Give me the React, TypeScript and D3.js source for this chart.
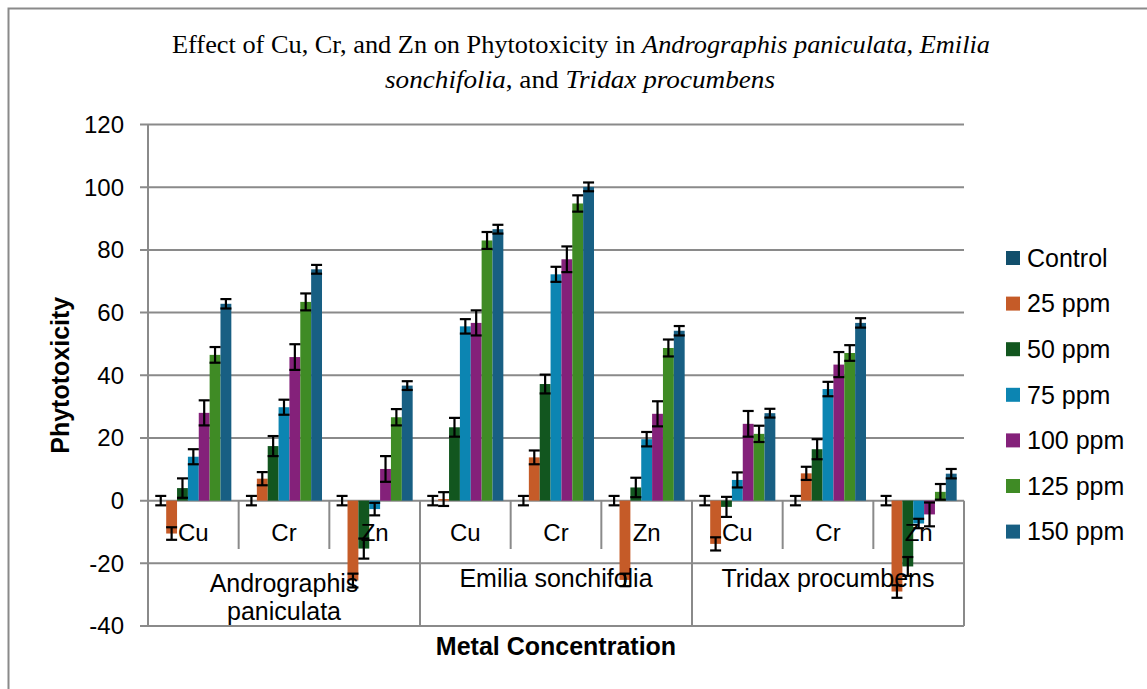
import React from "react";
import * as d3 from "d3";

const species = ["Andrographis paniculata", "Emilia sonchifolia", "Tridax procumbens"];
const speciesLines = [["Andrographis", "paniculata"], ["Emilia sonchifolia"], ["Tridax procumbens"]];
const metals = ["Cu", "Cr", "Zn"];
const seriesNames = ["Control", "25 ppm", "50 ppm", "75 ppm", "100 ppm", "125 ppm", "150 ppm"];
const seriesColors = ["#124f6c", "#c55b28", "#12561f", "#0c85b2", "#84217a", "#3f8b25", "#185f83"];
const yTicks = [-40, -20, 0, 20, 40, 60, 80, 100, 120];

// values per series, groups: AP-Cu, AP-Cr, AP-Zn, ES-Cu, ES-Cr, ES-Zn, TP-Cu, TP-Cr, TP-Zn
const control = [0, 0, 0, 0, 0, 0, 0, 0, 0];
const ppm25 = [-10.5, 7, -25.5, 0.5, 13.8, -25.3, -13.8, 8.7, -29];
const ppm50 = [4, 17.4, -15.3, 23.4, 37.2, 4.2, -2, 16.4, -21];
const ppm75 = [14, 29.8, -2.7, 55.6, 72.2, 19.6, 6.6, 35.6, -7.3];
const ppm100 = [28, 45.8, 10.1, 56.7, 77, 27.7, 24.5, 43.4, -4.4];
const ppm125 = [46.5, 63.4, 26.6, 83, 94.8, 48.7, 21.3, 47.1, 2.8];
const ppm150 = [62.8, 73.8, 36.7, 86.6, 100.1, 54.2, 27.9, 56.7, 8.6];

const errControl = [1.5, 1.5, 1.5, 1.5, 1.5, 1.5, 1.5, 1.5, 1.5];
const err25 = [2, 2.1, 2.2, 2.2, 2.2, 2, 2.1, 2.1, 2];
const err50 = [3.1, 3.2, 3.2, 3, 3, 3.1, 3.2, 3.2, 3];
const err75 = [2.4, 2.4, 2, 2.3, 2.4, 2.3, 2.4, 2.3, 1.5];
const err100 = [4, 4.1, 4.1, 4, 4.1, 4, 4.1, 4, 3.8];
const err125 = [2.5, 2.7, 2.6, 2.7, 2.6, 2.7, 2.6, 2.5, 2.5];
const err150 = [1.5, 1.4, 1.4, 1.4, 1.4, 1.5, 1.4, 1.5, 1.5];

const seriesValues = [control, ppm25, ppm50, ppm75, ppm100, ppm125, ppm150];
const seriesErrors = [errControl, err25, err50, err75, err100, err125, err150];

const W = 1147;
const H = 689;
const left = 148;
const right = 964;
const top = 124.5;
const bottom = 626;
const GRID = "#8a8a8a";
const SANS = "'Liberation Sans', Arial, sans-serif";
const SERIF = "'Liberation Serif', 'Times New Roman', serif";

export default function App() {
  const groups = d3.range(species.length * metals.length).map(String);
  const x0 = d3.scaleBand<string>().domain(groups).range([left, right]).padding(0);
  const x1 = d3.scaleBand<string>().domain(seriesNames).range([0, x0.bandwidth()]).paddingInner(0).paddingOuter(0.675);
  const y = d3.scaleLinear().domain([-40, 120]).range([bottom, top]);
  const y0 = y(0);
  const bw = x1.bandwidth();
  const speciesW = x0.bandwidth() * metals.length;

  return (
    <svg width={W} height={H} style={{ position: "fixed", left: 0, top: 0, background: "#fff" }}>
      <rect x={0} y={0} width={W} height={H} fill="#fff" />
      <rect x={8.5} y={8.5} width={W + 50} height={H + 50} fill="none" stroke={GRID} strokeWidth={2} />

      {/* title */}
      <text x={581} y={53} fontFamily={SERIF} fontSize={26} textAnchor="middle" fill="#000" textLength={818} lengthAdjust="spacingAndGlyphs">
        Effect of Cu, Cr, and Zn on Phytotoxicity in <tspan fontStyle="italic">Andrographis paniculata, Emilia</tspan>
      </text>
      <text x={580} y={88} fontFamily={SERIF} fontSize={26} textAnchor="middle" fill="#000" textLength={390} lengthAdjust="spacingAndGlyphs">
        <tspan fontStyle="italic">sonchifolia</tspan>, and <tspan fontStyle="italic">Tridax procumbens</tspan>
      </text>

      {/* gridlines */}
      {yTicks.map((t) => (
        <g key={t}>
          <line x1={left - 8} x2={right} y1={y(t)} y2={y(t)} stroke={GRID} strokeWidth={2} />
          <text x={124} y={y(t)} dy="0.35em" textAnchor="end" fontFamily={SANS} fontSize={24} fill="#000">
            {t}
          </text>
        </g>
      ))}
      {/* y axis */}
      <line x1={left} x2={left} y1={top} y2={bottom} stroke={GRID} strokeWidth={2} />

      {/* category table lines */}
      <line x1={right} x2={right} y1={y0} y2={bottom} stroke={GRID} strokeWidth={2} />
      {groups.map((g, i) =>
        i > 0 ? (
          <line
            key={"sep" + g}
            x1={x0(g)!}
            x2={x0(g)!}
            y1={y0}
            y2={i % metals.length === 0 ? bottom : 549}
            stroke={GRID}
            strokeWidth={2}
          />
        ) : null
      )}

      {/* bars */}
      {seriesNames.map((s, si) => (
        <g key={s} fill={seriesColors[si]}>
          {groups.map((g, gi) => {
            const v = seriesValues[si][gi];
            const yv = y(v);
            return <rect key={g} x={x0(g)! + x1(s)!} width={bw} y={Math.min(yv, y0)} height={Math.abs(yv - y0)} />;
          })}
        </g>
      ))}

      {/* category labels */}
      {groups.map((g, gi) => (
        <text
          key={"m" + g}
          x={x0(g)! + x0.bandwidth() / 2}
          y={541}
          textAnchor="middle"
          fontFamily={SANS}
          fontSize={24}
          fill="#000"
        >
          {metals[gi % metals.length]}
        </text>
      ))}
      {species.map((sp, i) => {
        const cx = left + speciesW * i + speciesW / 2;
        const lines = speciesLines[i];
        return (
          <text key={sp} x={cx} textAnchor="middle" fontFamily={SANS} fontSize={25} fill="#000">
            {lines.map((ln, li) => (
              <tspan key={li} x={cx} y={lines.length > 1 ? 592 + li * 28 : 587}>
                {ln}
              </tspan>
            ))}
          </text>
        );
      })}

      {/* error bars */}
      {seriesNames.map((s, si) => (
        <g key={"e" + s} stroke="#000" strokeWidth={2.2}>
          {groups.map((g, gi) => {
            const v = seriesValues[si][gi];
            const e = seriesErrors[si][gi];
            const cx = x0(g)! + x1(s)! + bw / 2;
            const ya = y(v + e);
            const yb = y(v - e);
            return (
              <g key={g}>
                <line x1={cx} x2={cx} y1={ya} y2={yb} />
                <line x1={cx - 5.5} x2={cx + 5.5} y1={ya} y2={ya} />
                <line x1={cx - 5.5} x2={cx + 5.5} y1={yb} y2={yb} />
              </g>
            );
          })}
        </g>
      ))}

      {/* axis titles */}
      <text
        transform={`translate(69, ${(top + bottom) / 2}) rotate(-90)`}
        textAnchor="middle"
        fontFamily={SANS}
        fontSize={25}
        fontWeight="bold"
        fill="#000"
      >
        Phytotoxicity
      </text>
      <text x={(left + right) / 2} y={655} textAnchor="middle" fontFamily={SANS} fontSize={25} fontWeight="bold" fill="#000">
        Metal Concentration
      </text>

      {/* legend */}
      {seriesNames.map((s, si) => {
        const cy = 258 + si * 45.6;
        return (
          <g key={"l" + s}>
            <rect x={1006} y={cy - 7} width={14} height={14} fill={seriesColors[si]} />
            <text x={1027} y={cy} dy="0.35em" fontFamily={SANS} fontSize={25} fill="#000">
              {s}
            </text>
          </g>
        );
      })}
    </svg>
  );
}
